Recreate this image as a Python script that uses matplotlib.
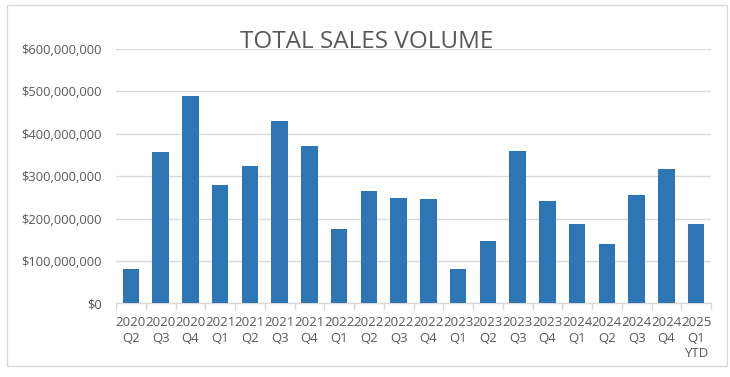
import matplotlib.pyplot as plt
from matplotlib.patches import Rectangle
from matplotlib.ticker import FuncFormatter, FixedLocator

# quarterly totals
quarters = ["2020\nQ2", "2020\nQ3", "2020\nQ4", "2021\nQ1", "2021\nQ2", "2021\nQ3", "2021\nQ4",
            "2022\nQ1", "2022\nQ2", "2022\nQ3", "2022\nQ4", "2023\nQ1", "2023\nQ2", "2023\nQ3",
            "2023\nQ4", "2024\nQ1", "2024\nQ2", "2024\nQ3", "2024\nQ4", "2025\nQ1\nYTD"]
sales = [80e6, 356e6, 489e6, 279e6, 324e6, 430e6, 370e6,
         175e6, 265e6, 249e6, 245e6, 82e6, 148e6, 359e6,
         241e6, 186e6, 139e6, 255e6, 316e6, 186e6]
y_ticks = [0, 100e6, 200e6, 300e6, 400e6, 500e6, 600e6]

plt.rcParams['font.family'] = ['Open Sans', 'DejaVu Sans']
txt = '#595959'
grid = '#D9D9D9'

fig = plt.figure(figsize=(7.3, 3.77), dpi=100)
ax = fig.add_axes([116 / 730, 1 - 303.3 / 377, (711 - 116) / 730, (303.3 - 48.9) / 377])

x = list(range(len(sales)))
ax.bar(x, sales, width=0.56, color='#2E75B6', zorder=3)

ax.set_xlim(-0.5, len(sales) - 0.5)
ax.set_ylim(0, 600e6)
ax.set_yticks(y_ticks)
ax.yaxis.set_major_formatter(FuncFormatter(lambda v, p: "${:,.0f}".format(v)))
ax.grid(axis='y', color=grid, linewidth=1.0, zorder=0)

ax.set_xticks(x)
ax.set_xticklabels(quarters, linespacing=1.25)
ax.xaxis.set_minor_locator(FixedLocator([i - 0.5 for i in range(len(sales) + 1)]))
ax.tick_params(axis='x', which='major', length=0, pad=9.5, labelsize=9.5, colors=txt)
ax.tick_params(axis='x', which='minor', length=5, color=grid, width=1.0)
ax.tick_params(axis='y', length=0, pad=10, labelsize=9.3, colors=txt)

for s in ['top', 'right', 'left']:
    ax.spines[s].set_visible(False)
ax.spines['bottom'].set_color(grid)
ax.spines['bottom'].set_linewidth(1.0)

fig.text(367 / 730, 1 - 48 / 377, "TOTAL SALES VOLUME", ha='center', va='baseline',
         fontsize=17.5, color=txt)

# chart frame
fig.patches.append(Rectangle((7 / 730, 1 - 366 / 377), (727 - 7) / 730, (366 - 5) / 377,
                             transform=fig.transFigure, fill=False, edgecolor=grid, linewidth=1.0))

fig.savefig('out.png', dpi=100)
